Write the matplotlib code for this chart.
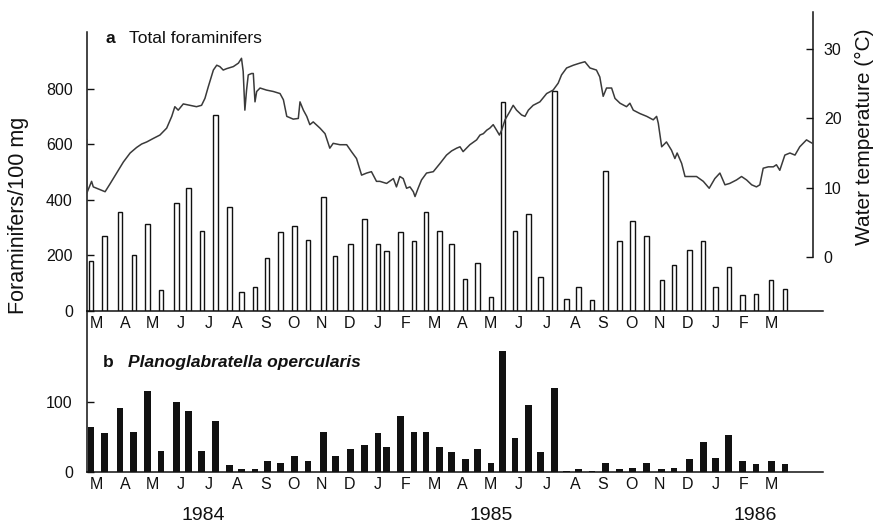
import matplotlib
matplotlib.use("Agg")
import matplotlib.pyplot as plt

plt.rcParams['font.family'] = ['Liberation Sans', 'DejaVu Sans']

# Sampling times in months since 1 March 1984 (roughly fortnightly)
sample_month = [0.30, 0.77, 1.33, 1.82, 2.30, 2.79, 3.33, 3.76, 4.24, 4.73,
                5.22, 5.64, 6.13, 6.56, 7.04, 7.53, 8.01, 8.56, 8.98, 9.53,
                10.02, 10.50, 10.81, 11.30, 11.78, 12.21, 12.69, 13.12, 13.60, 14.03,
                14.52, 14.94, 15.37, 15.86, 16.28, 16.77, 17.20, 17.62, 18.11, 18.59,
                19.08, 19.55, 20.05, 20.59, 21.02, 21.57, 22.06, 22.49, 22.97, 23.45,
                23.94, 24.48, 24.97]

# (a) total foraminifers per 100 mg sediment
total_forams = [180, 269, 356, 202, 314, 74, 387, 443, 289, 705,
                375, 66, 86, 190, 283, 307, 257, 412, 196, 240,
                331, 240, 216, 283, 251, 356, 289, 240, 116, 172,
                50, 754, 289, 350, 122, 793, 43, 86, 37, 503,
                251, 325, 269, 110, 165, 220, 251, 86, 159, 55,
                61, 110, 80]

# (b) Planoglabratella opercularis per 100 mg sediment
p_opercularis = [64, 55, 91, 57, 116, 30, 99, 87, 30, 72,
                 9, 4, 4, 16, 13, 23, 16, 57, 23, 33,
                 38, 55, 35, 79, 57, 57, 35, 28, 18, 33,
                 13, 172, 48, 96, 28, 120, 1, 4, 1, 13,
                 4, 6, 13, 4, 6, 18, 42, 20, 52, 16,
                 11, 16, 11]

# Water temperature record (months since 1 March 1984, deg C)
temp_month = [0.15, 0.15, 0.32, 0.38, 0.62, 0.80, 0.97, 1.21, 1.45, 1.69,
              1.92, 2.10, 2.28, 2.51, 2.75, 2.99, 3.17, 3.28, 3.40, 3.58,
              3.82, 4.05, 4.23, 4.35, 4.47, 4.65, 4.77, 4.88, 5.00, 5.12,
              5.36, 5.54, 5.65, 5.71, 5.77, 5.83, 5.89, 6.01, 6.07, 6.13,
              6.19, 6.31, 6.54, 6.78, 7.02, 7.14, 7.26, 7.49, 7.67, 7.73,
              7.85, 7.97, 8.08, 8.20, 8.44, 8.62, 8.79, 8.91, 9.15, 9.39,
              9.56, 9.74, 9.92, 10.10, 10.27, 10.45, 10.57, 10.81, 11.05, 11.16,
              11.28, 11.40, 11.52, 11.64, 11.76, 11.82, 11.93, 12.05, 12.23, 12.47,
              12.71, 12.94, 13.12, 13.30, 13.42, 13.53, 13.77, 14.01, 14.13, 14.25,
              14.37, 14.48, 14.60, 14.72, 14.82, 14.90, 15.02, 15.19, 15.31, 15.43,
              15.61, 15.73, 15.85, 16.02, 16.26, 16.50, 16.73, 16.91, 17.03, 17.21,
              17.45, 17.68, 17.86, 18.04, 18.27, 18.39, 18.51, 18.63, 18.81, 18.93,
              19.11, 19.34, 19.46, 19.58, 19.82, 20.06, 20.29, 20.41, 20.47, 20.59,
              20.76, 20.94, 21.06, 21.14, 21.30, 21.42, 21.59, 21.83, 22.07, 22.28,
              22.48, 22.66, 22.84, 23.01, 23.25, 23.43, 23.61, 23.79, 23.96, 24.08,
              24.20, 24.38, 24.56, 24.67, 24.79, 24.97, 25.15, 25.33, 25.50, 25.74,
              25.86, 25.95]
temp_c = [16.9, 9.2, 10.9, 10.1, 9.7, 9.4, 10.5, 12.1, 13.7, 15.0,
          15.8, 16.3, 16.6, 17.1, 17.6, 18.6, 20.3, 21.7, 21.2, 22.1,
          21.9, 21.7, 21.9, 22.9, 24.6, 27.0, 27.7, 27.5, 27.0, 27.2,
          27.5, 28.0, 28.7, 26.8, 21.2, 24.1, 26.3, 26.5, 26.5, 22.4,
          23.9, 24.4, 24.1, 23.9, 23.6, 22.7, 20.3, 19.9, 20.0, 22.4,
          21.2, 20.3, 19.1, 19.5, 18.6, 17.8, 15.7, 16.4, 16.2, 16.2,
          15.2, 14.2, 11.8, 12.1, 12.3, 10.9, 10.9, 10.6, 11.3, 10.1,
          11.6, 11.3, 9.9, 10.1, 9.4, 8.7, 9.9, 11.1, 12.1, 12.3,
          13.5, 14.7, 15.3, 15.7, 15.9, 15.2, 16.2, 16.9, 17.6, 17.8,
          18.3, 18.6, 19.1, 18.3, 17.6, 18.3, 19.8, 21.0, 21.9, 21.2,
          20.5, 20.3, 21.2, 21.9, 22.4, 23.6, 24.1, 25.1, 26.3, 27.3,
          27.7, 28.0, 28.2, 27.3, 27.0, 26.0, 23.2, 24.4, 24.4, 22.9,
          22.2, 21.7, 22.2, 21.2, 20.7, 20.3, 19.8, 20.3, 19.3, 15.9,
          16.6, 15.4, 14.2, 15.0, 13.5, 11.6, 11.6, 11.6, 10.9, 9.9,
          11.3, 12.1, 10.4, 10.6, 11.1, 11.6, 11.1, 10.4, 10.1, 10.4,
          12.8, 13.0, 13.0, 13.3, 12.5, 14.7, 15.0, 14.7, 15.9, 16.9,
          16.6, 16.4]

month_letters = ['M', 'A', 'M', 'J', 'J', 'A', 'S', 'O', 'N', 'D', 'J', 'F',
                 'M', 'A', 'M', 'J', 'J', 'A', 'S', 'O', 'N', 'D', 'J', 'F', 'M']
month_centres = [i + 0.5 for i in range(len(month_letters))]
year_labels = ['1984', '1985', '1986']
year_positions = [4.29, 14.54, 23.90]

W, H = 876, 525
fig = plt.figure(figsize=(W / 100, H / 100), dpi=100)


def box(x0, y0, x1, y1):
    """Axes rectangle from pixel edges (y measured from the top)."""
    return [x0 / W, 1 - y1 / H, (x1 - x0) / W, (y1 - y0) / H]


X_LEFT, X_RIGHT, X_TEMP_RIGHT = 0.146, 26.32, 25.96
ink = '#111111'
spine_w = 1.1

# ---- panel a: total foraminifers -----------------------------------------
ax_a = fig.add_axes(box(86.7, 32, 823, 310.7))
ax_a.bar(sample_month, total_forams, width=0.16, facecolor='white',
         edgecolor=ink, linewidth=1.0, zorder=2)
ax_a.set_xlim(X_LEFT, X_RIGHT)
ax_a.set_ylim(0, 1006)
ax_a.set_yticks([0, 200, 400, 600, 800])
ax_a.set_xticks(month_centres)
ax_a.set_xticklabels(month_letters)
ax_a.tick_params(axis='x', length=0, pad=4, labelsize=11.5, colors=ink)
ax_a.tick_params(axis='y', direction='in', length=5, width=1.0,
                 labelsize=11.5, pad=10, colors=ink)
for s in ('top', 'right'):
    ax_a.spines[s].set_visible(False)
for s in ('left', 'bottom'):
    ax_a.spines[s].set_linewidth(spine_w)
    ax_a.spines[s].set_color(ink)
ax_a.patch.set_visible(False)
ax_a.text(0.025, 0.977, 'a', transform=ax_a.transAxes, fontsize=12.5,
          fontweight='bold', va='center', ha='left', color=ink)
ax_a.text(0.057, 0.977, 'Total foraminifers', transform=ax_a.transAxes,
          fontsize=12.5, va='center', ha='left', color=ink)

# ---- water temperature on its own right-hand scale ---------------------------
ax_t = fig.add_axes(box(86.7, 11.7, 812.7, 310.7))
ax_t.plot(temp_month, temp_c, color='#3a3a3a', linewidth=1.1, zorder=3)
ax_t.set_xlim(X_LEFT, X_TEMP_RIGHT)
ax_t.set_ylim(-7.81, 35.44)
ax_t.patch.set_visible(False)
for s in ('top', 'left', 'bottom'):
    ax_t.spines[s].set_visible(False)
ax_t.spines['right'].set_bounds(0, 35.44)
ax_t.spines['right'].set_linewidth(spine_w)
ax_t.spines['right'].set_color(ink)
ax_t.yaxis.tick_right()
ax_t.set_yticks([0, 10, 20, 30])
ax_t.set_xticks([])
ax_t.tick_params(axis='y', direction='in', length=5, width=1.0,
                 labelsize=11.5, pad=8, colors=ink)

# ---- panel b: Planoglabratella opercularis ----------------------------------
ax_b = fig.add_axes(box(86.7, 310.7, 823, 471.7))
ax_b.bar(sample_month, p_opercularis, width=0.24, color=ink, linewidth=0)
ax_b.set_xlim(X_LEFT, X_RIGHT)
ax_b.set_ylim(0, 230)
ax_b.set_yticks([0, 100])
ax_b.set_xticks(month_centres)
ax_b.set_xticklabels(month_letters)
ax_b.tick_params(axis='x', length=0, pad=4, labelsize=11.5, colors=ink)
ax_b.tick_params(axis='y', direction='in', length=5, width=1.0,
                 labelsize=11.5, pad=10, colors=ink)
for s in ('top', 'right'):
    ax_b.spines[s].set_visible(False)
for s in ('left', 'bottom'):
    ax_b.spines[s].set_linewidth(spine_w)
    ax_b.spines[s].set_color(ink)
ax_b.patch.set_visible(False)
ax_b.text(0.022, 0.68, 'b', transform=ax_b.transAxes, fontsize=12.5,
          fontweight='bold', va='center', ha='left', color=ink)
ax_b.text(0.056, 0.68, 'Planoglabratella opercularis', transform=ax_b.transAxes,
          fontsize=12.5, fontweight='bold', fontstyle='italic',
          va='center', ha='left', color=ink)
for lbl, xm in zip(year_labels, year_positions):
    ax_b.text(xm, -0.272, lbl, transform=ax_b.get_xaxis_transform(),
              fontsize=14, ha='center', va='center', color=ink)

# axis titles
fig.text(19 / W, 1 - 215 / H, 'Foraminifers/100 mg', rotation=90,
         fontsize=15.5, ha='center', va='center', color=ink)
fig.text(864 / W, 1 - 137 / H, 'Water temperature (\u00b0C)', rotation=90,
         fontsize=15, ha='center', va='center', color=ink)

fig.savefig('out.png', dpi=100)
